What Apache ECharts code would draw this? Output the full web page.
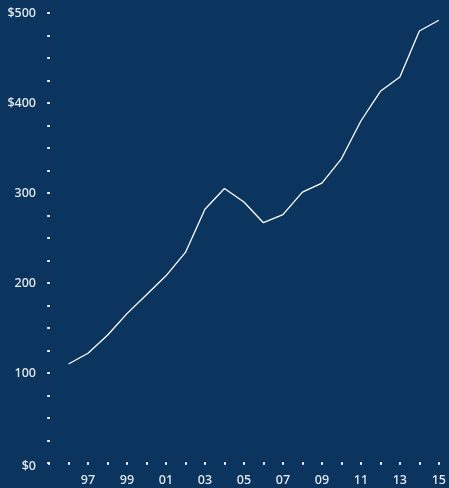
<!DOCTYPE html>
<html>
<head>
<meta charset="utf-8">
<script src="https://cdn.jsdelivr.net/npm/echarts@6/dist/echarts.min.js"></script>
<style>
  html, body { margin: 0; padding: 0; background: #0b355e; }
  #main { width: 449px; height: 488px; }
</style>
</head>
<body>
<div id="main"></div>
<script>
  // years on the x axis, 1995 is only the corner dot
  var years = ['1995','1996','1997','1998','1999','2000','2001','2002','2003','2004','2005',
               '2006','2007','2008','2009','2010','2011','2012','2013','2014','2015'];
  var values = [null, 110, 122, 142, 166, 187, 208, 234, 282, 305, 290,
                267, 276, 301, 311, 338, 380, 413, 429, 480, 492];
  // y labels at 0,100,...,500
  var yLabels = ['$0', '100', '200', '300', '$400', '$500'];

  var chart = echarts.init(document.getElementById('main'));
  var labelStyle = {
    color: '#e6ebf1',
    fontFamily: 'Noto Sans',
    fontSize: 12.5,
    fontWeight: 500
  };
  // short round-capped ticks make the dots
  var dotTick = {
    show: true, length: 1,
    lineStyle: { color: '#ffffff', width: 2, cap: 'round' }
  };
  var option = {
    backgroundColor: '#0b355e',
    animation: false,
    grid: { left: 49, right: 6, top: 13, bottom: 25 },
    xAxis: {
      type: 'category',
      data: years,
      boundaryGap: false,
      axisLine: { show: false },
      axisTick: Object.assign({ interval: 0, alignWithLabel: true }, dotTick),
      axisLabel: Object.assign({
        margin: 11,
        interval: function (i) { return i > 0 && i % 2 === 0; },
        formatter: function (v) { return v.slice(2); }
      }, labelStyle),
      splitLine: { show: false }
    },
    yAxis: {
      type: 'value',
      min: 0,
      max: 500,
      interval: 25,
      axisLine: { show: false },
      axisTick: dotTick,
      axisLabel: Object.assign({
        margin: 13,
        formatter: function (v) {
          if (v === 0) return '{low|' + yLabels[0] + '}';
          return v % 100 === 0 ? yLabels[v / 100] : '';
        },
        rich: { low: { padding: [6, 0, 0, 0], color: '#e6ebf1', fontFamily: 'Noto Sans', fontSize: 12.5, fontWeight: 500 } }
      }, labelStyle),
      splitLine: { show: false }
    },
    series: [{
      type: 'line',
      data: values,
      symbol: 'none',
      lineStyle: { color: '#ffffff', width: 1.3 }
    }]
  };
  chart.setOption(option);
</script>
</body>
</html>
